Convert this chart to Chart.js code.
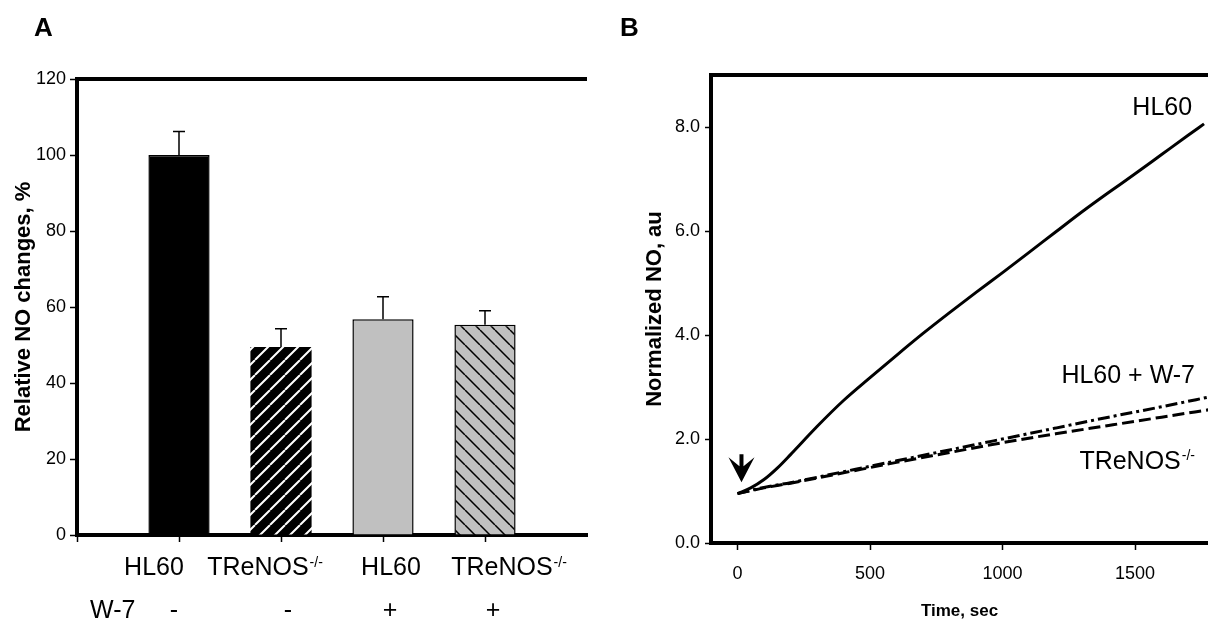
<!DOCTYPE html>
<html>
<head>
<meta charset="utf-8">
<script src="https://cdn.jsdelivr.net/npm/chart.js@4.4.1/dist/chart.umd.min.js"></script>
<style>
  body { margin: 0; background: #fff; }
  #wrap { position: relative; width: 1208px; height: 628px; overflow: hidden; background: #fff; }
  .pane { position: absolute; top: 0; height: 628px; }
  .letter { position: absolute; top: 12px; font: bold 26px "Liberation Sans", Arial, sans-serif; }
</style>
</head>
<body>
<div id="wrap">
  <div class="pane" style="left:0;width:600px"><canvas id="chartA"></canvas></div>
  <div class="pane" style="left:600px;width:608px"><canvas id="chartB"></canvas></div>
  <div class="letter" style="left:34px">A</div>
  <div class="letter" style="left:620px">B</div>
</div>
<script>
var FONT = '"Liberation Sans", Arial, sans-serif';

// panel A: relative NO change per group
var conditions = ['HL60', 'TReNOS', 'HL60', 'TReNOS'];
var genotypeSup = ['', '-/-', '', '-/-'];
var w7Marks = ['-', '-', '+', '+'];
var barPos = [1, 2, 3, 4];
var noChange = [100, 49.5, 56.8, 55.3];
var noChangeErr = [6.2, 4.8, 5.9, 3.7];
var yTicksA = [0, 20, 40, 60, 80, 100, 120];
var xTicksA = [0, 1, 2, 3, 4];

// panel B: NO traces over time
var hlTime = [0, 50, 100, 150, 200, 250, 300, 400, 500, 600, 700, 800, 900, 1000, 1100, 1200, 1300, 1400, 1500, 1600, 1700, 1760];
var hlNO = [0.95, 1.06, 1.22, 1.44, 1.70, 1.97, 2.24, 2.74, 3.18, 3.61, 4.03, 4.43, 4.82, 5.20, 5.59, 5.98, 6.37, 6.74, 7.10, 7.47, 7.84, 8.06];
var ctrlTime = [0, 100, 200, 400, 600, 800, 1000, 1200, 1400, 1600, 1800];
var w7NO = [0.95, 1.07, 1.16, 1.37, 1.58, 1.79, 2.00, 2.21, 2.42, 2.62, 2.83];
var koNO = [0.95, 1.06, 1.15, 1.35, 1.55, 1.74, 1.93, 2.10, 2.26, 2.42, 2.58];
var xTicksB = [0, 500, 1000, 1500];
var yTicksB = [0, 2, 4, 6, 8];

Chart.defaults.font.family = FONT;
Chart.defaults.color = '#000';

function hatch(bg, fg, dir, gap, width) {
    var c = document.createElement('canvas');
    c.width = c.height = gap;
    var g = c.getContext('2d');
    g.fillStyle = bg;
    g.fillRect(0, 0, gap, gap);
    g.strokeStyle = fg;
    g.lineWidth = width;
    g.beginPath();
    for (var k = -1; k <= 1; k++) {
        if (dir > 0) {
            g.moveTo(k * gap, gap);
            g.lineTo(k * gap + gap, 0);
        } else {
            g.moveTo(k * gap, 0);
            g.lineTo(k * gap + gap, gap);
        }
    }
    g.stroke();
    return g.createPattern(c, 'repeat');
}

function setTicks(values) {
    return function (scale) {
        scale.ticks = values.map(function (v) { return { value: v }; });
    };
}

// top edge of the frame
var frameTop = {
    id: 'frameTop',
    afterDraw: function (chart) {
        var a = chart.chartArea, ctx = chart.ctx;
        ctx.save();
        ctx.strokeStyle = '#000';
        ctx.lineWidth = 4;
        ctx.beginPath();
        ctx.moveTo(a.left - 2, a.top);
        ctx.lineTo(a.right, a.top);
        ctx.stroke();
        ctx.restore();
    }
};

var errorBars = {
    id: 'errorBars',
    afterDatasetsDraw: function (chart) {
        var ctx = chart.ctx, y = chart.scales.y;
        ctx.save();
        ctx.strokeStyle = '#000';
        ctx.lineWidth = 1.5;
        chart.getDatasetMeta(0).data.forEach(function (bar, i) {
            var top = y.getPixelForValue(noChange[i] + noChangeErr[i]);
            ctx.beginPath();
            ctx.moveTo(bar.x, bar.y);
            ctx.lineTo(bar.x, top);
            ctx.moveTo(bar.x - 6, top);
            ctx.lineTo(bar.x + 6, top);
            ctx.stroke();
        });
        ctx.restore();
    }
};

// two-row group labels under the bars
var labelShift = [-25, -16, 8, 24];
var markShift = [-5, 7, 7, 8];
var groupLabels = {
    id: 'groupLabels',
    afterDraw: function (chart) {
        var ctx = chart.ctx, x = chart.scales.x;
        ctx.save();
        ctx.fillStyle = '#000';
        ctx.textBaseline = 'middle';
        conditions.forEach(function (name, i) {
            var px = x.getPixelForValue(barPos[i]);
            ctx.font = '25px ' + FONT;
            var w = ctx.measureText(name).width;
            ctx.font = '14px ' + FONT;
            var sw = genotypeSup[i] ? ctx.measureText(genotypeSup[i]).width + 1 : 0;
            var left = px + labelShift[i] - (w + sw) / 2;
            ctx.textAlign = 'left';
            ctx.font = '25px ' + FONT;
            ctx.fillText(name, left, 568);
            if (genotypeSup[i]) {
                ctx.font = '14px ' + FONT;
                ctx.fillText(genotypeSup[i], left + w + 1, 563);
            }
            ctx.font = '25px ' + FONT;
            ctx.textAlign = 'center';
            ctx.fillText(w7Marks[i], px + markShift[i], 611);
        });
        ctx.textAlign = 'left';
        ctx.fillText('W-7', 90, 611);
        ctx.restore();
    }
};

new Chart(document.getElementById('chartA'), {
    type: 'bar',
    data: {
        datasets: [{
            data: barPos.map(function (p, i) { return { x: p, y: noChange[i] }; }),
            backgroundColor: ['#000', hatch('#000', '#fff', 1, 15, 2), '#c0c0c0', hatch('#c0c0c0', '#000', -1, 15, 1.5)],
            borderColor: '#000',
            borderWidth: [1.5, 0, 1.5, 1.5],
            barPercentage: 0.6,
            categoryPercentage: 1
        }]
    },
    options: {
        responsive: true,
        maintainAspectRatio: false,
        animation: false,
        layout: { padding: { left: 0, top: 79, right: 13, bottom: 0 } },
        plugins: { legend: { display: false }, tooltip: { enabled: false } },
        scales: {
            x: {
                type: 'linear',
                min: 0,
                max: 5,
                offset: false,
                afterBuildTicks: setTicks(xTicksA),
                afterFit: function (s) { s.height = 93; },
                border: { color: '#000', width: 4 },
                grid: { offset: false, drawOnChartArea: false, tickLength: 7, tickWidth: 1.5, tickColor: '#000' },
                ticks: { callback: function () { return ''; } }
            },
            y: {
                min: 0,
                max: 120,
                afterBuildTicks: setTicks(yTicksA),
                afterFit: function (s) { s.width = 77; },
                border: { color: '#000', width: 4 },
                grid: { drawOnChartArea: false, tickLength: 7, tickWidth: 1.5, tickColor: '#000' },
                ticks: { font: { size: 18 }, padding: 4 },
                title: {
                    display: true,
                    text: 'Relative NO changes, %',
                    font: { size: 22, weight: 'bold' },
                    padding: { top: 11, bottom: 0 }
                }
            }
        }
    },
    plugins: [frameTop, errorBars, groupLabels]
});

// curve names and the addition arrow
var curveNotes = [
    { text: 'HL60', sup: '', x: 1715, y: 8.37 },
    { text: 'HL60 + W-7', sup: '', x: 1726, y: 3.21 },
    { text: 'TReNOS', sup: '-/-', x: 1726, y: 1.56 }
];
var notes = {
    id: 'notes',
    afterDraw: function (chart) {
        var ctx = chart.ctx, x = chart.scales.x, y = chart.scales.y;
        ctx.save();
        ctx.fillStyle = '#000';
        ctx.textBaseline = 'middle';
        ctx.textAlign = 'left';
        curveNotes.forEach(function (n) {
            ctx.font = '25px ' + FONT;
            var w = ctx.measureText(n.text).width;
            ctx.font = '14px ' + FONT;
            var sw = n.sup ? ctx.measureText(n.sup).width + 1 : 0;
            var left = x.getPixelForValue(n.x) - w - sw;
            var py = y.getPixelForValue(n.y);
            ctx.font = '25px ' + FONT;
            ctx.fillText(n.text, left, py);
            if (n.sup) {
                ctx.font = '14px ' + FONT;
                ctx.fillText(n.sup, left + w + 1, py - 6);
            }
        });
        // arrow pointing at the start of the traces
        var ax = x.getPixelForValue(15), ay = y.getPixelForValue(1.17);
        ctx.beginPath();
        ctx.moveTo(ax, ay);
        ctx.lineTo(ax - 13, ay - 25);
        ctx.lineTo(ax - 2, ay - 16);
        ctx.lineTo(ax - 2, ay - 28);
        ctx.lineTo(ax + 2, ay - 28);
        ctx.lineTo(ax + 2, ay - 16);
        ctx.lineTo(ax + 13, ay - 25);
        ctx.closePath();
        ctx.fill();
        ctx.restore();
    }
};

function trace(times, values, dash) {
    return {
        data: times.map(function (t, i) { return { x: t, y: values[i] }; }),
        borderColor: '#000',
        borderWidth: 3,
        borderDash: dash,
        pointRadius: 0,
        fill: false,
        cubicInterpolationMode: 'monotone'
    };
}

new Chart(document.getElementById('chartB'), {
    type: 'line',
    data: {
        datasets: [
            trace(ctrlTime, koNO, [12, 5]),
            trace(ctrlTime, w7NO, [12, 4, 3, 4]),
            trace(hlTime, hlNO, [])
        ]
    },
    options: {
        responsive: true,
        maintainAspectRatio: false,
        animation: false,
        layout: { padding: { left: 0, top: 75, right: 0, bottom: 0 } },
        plugins: { legend: { display: false }, tooltip: { enabled: false } },
        scales: {
            x: {
                type: 'linear',
                min: -100,
                max: 1775,
                afterBuildTicks: setTicks(xTicksB),
                afterFit: function (s) { s.height = 85; },
                border: { color: '#000', width: 4 },
                grid: { drawOnChartArea: false, tickLength: 7, tickWidth: 1.5, tickColor: '#000' },
                ticks: { font: { size: 18 }, padding: 13, maxRotation: 0, callback: function (v) { return String(v); } },
                title: {
                    display: true,
                    text: 'Time, sec',
                    font: { size: 17, weight: 'bold' },
                    padding: { top: 0, bottom: 6 }
                }
            },
            y: {
                min: 0,
                max: 9,
                afterBuildTicks: setTicks(yTicksB),
                afterFit: function (s) { s.width = 111; },
                border: { color: '#000', width: 4 },
                grid: { drawOnChartArea: false, tickLength: 6, tickWidth: 1.5, tickColor: '#000' },
                ticks: { font: { size: 18 }, padding: 5, callback: function (v) { return v.toFixed(1); } },
                title: {
                    display: true,
                    text: 'Normalized NO, au',
                    font: { size: 22, weight: 'bold' },
                    padding: { top: 42, bottom: 0 }
                }
            }
        }
    },
    plugins: [frameTop, notes]
});
</script>
</body>
</html>
